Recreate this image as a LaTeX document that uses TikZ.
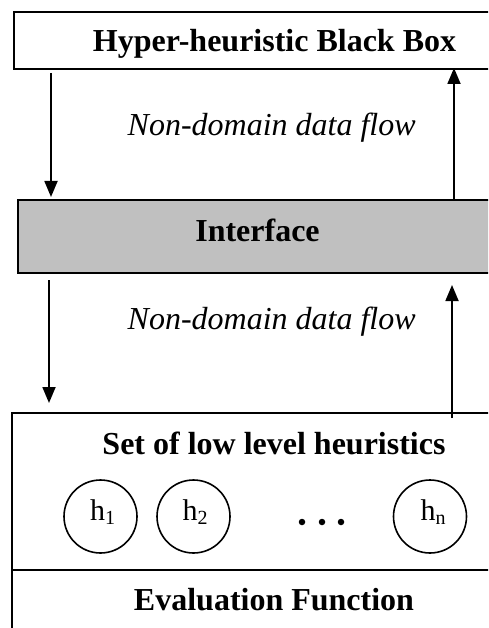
\documentclass[tikz,border=0pt]{standalone}
\usepackage{fontspec}
\setmainfont{Liberation Serif}
\usetikzlibrary{arrows.meta}
\tikzset{
  boxline/.style={line width=2pt},
  bigbold/.style={font=\fontsize{32}{38}\selectfont\bfseries, anchor=base, inner sep=0pt},
  flowtext/.style={font=\fontsize{32}{38}\selectfont\itshape, anchor=base, inner sep=0pt},
  hcirc/.style={circle, draw, line width=1.6pt, minimum size=73pt, inner sep=0pt},
  hlabel/.style={font=\fontsize{30}{32}\selectfont, anchor=base, inner sep=0pt},
  flow/.style={line width=1.8pt, -{Triangle[width=13pt,length=16pt]}},
  dot/.style={circle, fill=black, minimum size=6.5pt, inner sep=0pt}
}
\newcommand{\hsub}[1]{h\raisebox{-4pt}{\fontsize{20}{21}\selectfont #1}}
\begin{document}
\begin{tikzpicture}[x=1pt,y=-1pt]
\useasboundingbox (0,0) rectangle (488,628);
\clip (0,0) rectangle (488,628);
% boxes
\draw[boxline] (14,12) rectangle (530,69);
\draw[boxline, fill={rgb,255:red,192;green,192;blue,192}] (18,200) rectangle (530,273);
\draw[boxline] (12,413) rectangle (530,700);
\draw[boxline] (12,570) -- (530,570);
% named coordinates on box edges
\coordinate (topL) at (51,69);
\coordinate (topR) at (454,69);
\coordinate (ifTL) at (51,200);
\coordinate (ifTR) at (454,200);
\coordinate (ifBL) at (49,273);
\coordinate (ifBR) at (452,273);
\coordinate (botL) at (49,413);
\coordinate (botR) at (452,413);
% texts
\node[bigbold] (hh) at (274.5,52) {Hyper-heuristic Black Box};
\node[flowtext] (f1) at (271.7,136) {Non-domain data flow};
\node[bigbold] (iface) at (257.5,241.7) {Interface};
\node[flowtext] (f2) at (271.7,329) {Non-domain data flow};
\node[bigbold] (set) at (274,454) {Set of low level heuristics};
\node[bigbold] (eval) at (274,610) {Evaluation Function};
% heuristics
\node[hcirc] (c1) at (100.5,516.5) {};
\node[hcirc] (c2) at (193.5,516.5) {};
\node[hcirc] (cn) at (430,516.5) {};
\node[hlabel] (t1) at (102.5,520) {\hsub{1}};
\node[hlabel] (t2) at (195,520) {\hsub{2}};
\node[hlabel] (tn) at (433,520) {\hsub{n}};
\node[dot] (d1) at (302,522) {};
\node[dot] (d2) at (322,522) {};
\node[dot] (d3) at (341,522) {};
% arrows
\draw[flow] ([yshift=-4pt]topL) -- ([yshift=3pt]ifTL);
\draw[flow] (ifTR) -- ([yshift=1pt]topR);
\draw[flow] ([yshift=-7pt]ifBL) -- ([yshift=10pt]botL);
\draw[flow] ([yshift=-5pt]botR) -- ([yshift=-12pt]ifBR);
\end{tikzpicture}
\end{document}
